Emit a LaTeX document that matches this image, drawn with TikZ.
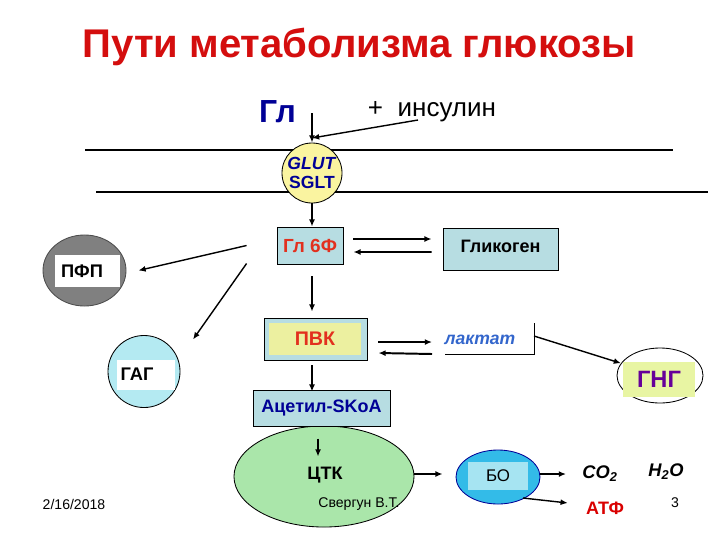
\documentclass[tikz,border=0pt]{standalone}
\usepackage{fontspec}
\setmainfont{Liberation Sans}
\usetikzlibrary{arrows.meta,calc,shapes.geometric}
\definecolor{titlered}{RGB}{212,14,14}
\definecolor{navy}{RGB}{0,0,150}
\definecolor{boxblue}{RGB}{183,221,226}
\definecolor{glutyel}{RGB}{250,244,160}
\definecolor{pvkyel}{RGB}{236,240,160}
\definecolor{gngyel}{RGB}{232,245,163}
\definecolor{gngpurple}{RGB}{102,0,153}
\definecolor{gagcyan}{RGB}{180,234,242}
\definecolor{tcagreen}{RGB}{170,230,170}
\definecolor{bocyan}{RGB}{51,187,232}
\definecolor{bolight}{RGB}{166,228,242}
\definecolor{laktblue}{RGB}{51,102,204}
\definecolor{g6fred}{RGB}{226,48,30}
\begin{document}
\begin{tikzpicture}[x=0.025cm,y=-0.025cm,line width=1pt,
  >={Latex[length=1.8mm,width=1.5mm]},
  box/.style={rectangle,draw,line width=0.6pt,fill=boxblue,inner sep=0pt},
  blob/.style={ellipse,draw,line width=0.6pt,inner sep=0pt},
  plate/.style={rectangle,inner sep=0pt},
  twin/.style={->,line width=1.4pt}]
  \useasboundingbox (0,0) rectangle (720,540);

  % title, glucose, insulin
  \node[text=titlered,font=\bfseries\fontsize{28.5}{32}\selectfont] (title) at (359,47) {Пути метаболизма глюкозы};
  \node[text=navy,font=\bfseries\fontsize{22.7}{26}\selectfont] (gl) at (277.5,112) {Гл};
  \node[font=\fontsize{18.5}{21}\selectfont] (ins) at (432,112) {+\ \ инсулин};
  \coordinate (glin) at (312,113);
  \coordinate (hit) at (312,138);

  % membrane
  \draw (85,150) -- (673,150);
  \draw (96,192) -- (708,192);
  \node[circle,draw,line width=0.6pt,inner sep=0pt,fill=glutyel,minimum size=1.5cm,align=center,
    text=navy,font=\bfseries\fontsize{12.5}{14}\selectfont] (glut) at (312,173) {\textit{GLUT}\\SGLT};

  \draw[->] (glin) -- (glut);
  \draw[->] ($(ins)+(-14,8)$) -- (hit);

  % glucose-6-phosphate and glycogen
  \node[box,minimum width=1.65cm,minimum height=0.925cm,text=g6fred,
    font=\bfseries\fontsize{13.5}{15}\selectfont] (g6f) at (310,245.5) {Гл 6Ф};
  \node[box,minimum width=2.875cm,minimum height=1.05cm,
    font=\bfseries\fontsize{12.8}{14}\selectfont] (glyk) at (500.5,249) {\raisebox{4pt}{Гликоген}};
  \draw[->] (glut.south) -- (glut.south |- g6f.north);
  \draw[twin] ($(g6f.east)+(10,-6.5)$) -- ($(glyk.west)+(-11,-10)$);
  \draw[twin] ($(glyk.west)+(-11,3)$) -- ($(g6f.east)+(10,6.5)$);

  % side pathways
  \node[blob,fill=gray,draw=black!70,minimum width=2.075cm,minimum height=1.775cm] (pfp) at (84.5,270.5) {};
  \node[plate,fill=white,minimum width=1.625cm,minimum height=0.8cm] (pfpbg) at (87.5,271) {};
  \node[font=\bfseries\fontsize{13}{15}\selectfont] (pfpt) at (82,271) {ПФП};
  \node[circle,draw,line width=0.6pt,inner sep=0pt,fill=gagcyan,minimum size=1.8cm] (gag) at (144,371.5) {};
  \node[plate,fill=white,minimum width=1.45cm,minimum height=0.75cm] (gagbg) at (146,375) {};
  \node[font=\bfseries\fontsize{13}{15}\selectfont] (gagt) at (137,374) {ГАГ};
  \draw[->] ($(g6f.west)+(-30,0)$) -- ($(pfp.east)+(12,0)$);
  \draw[->] ($(g6f.west)+(-30,18)$) -- ($(gag)+(49,-32)$);

  % pyruvate and lactate
  \node[box,minimum width=2.575cm,minimum height=1.05cm] (pvk) at (315.5,339) {};
  \node[plate,fill=pvkyel,minimum width=2.3cm,minimum height=0.8cm,text=g6fred,
    font=\bfseries\fontsize{14}{16}\selectfont] (pvkt) at (315,339) {ПВК};
  \draw[->] ($(g6f.south)+(2,12)$) -- ($(pvk.north)+(-3.5,-6)$);
  \node[text=laktblue,font=\bfseries\itshape\fontsize{12.5}{14}\selectfont] (lakt) at (480,340) {лактат};
  \draw[line width=0.6pt] ($(lakt)+(54,-17)$) -- ($(lakt)+(54,14)$) -- ($(lakt)+(-35,14)$);
  \draw[twin] ($(pvk.east)+(11,3)$) -- ($(lakt)+(-48,2)$);
  \draw[twin] ($(lakt)+(-48,14)$) -- ($(pvk.east)+(11,14)$);

  \node[blob,fill=white,minimum width=2.15cm,minimum height=1.375cm] (gng) at (660,375.5) {};
  \node[plate,fill=gngyel,minimum width=1.8cm,minimum height=0.875cm,text=gngpurple,
    font=\bfseries\fontsize{16.8}{18}\selectfont] (gngt) at (659,379.5) {ГНГ};
  \draw[->] ($(lakt)+(54,-4)$) -- (gng);

  % acetyl-CoA and TCA cycle
  \node[blob,fill=tcagreen,minimum width=4.5cm,minimum height=2.525cm] (tca) at (324,476.5) {};
  \node[box,minimum width=3.425cm,minimum height=0.9cm,text=navy,
    font=\bfseries\fontsize{12.8}{14}\selectfont] (acet) at (321.5,408) {Ацетил-SKoA};
  \draw[->] ($(pvk.south)+(-3.5,5)$) -- ($(acet.north)+(-9.5,2)$);
  \draw[->] ($(tca)+(-6,-38)$) -- ($(tca)+(-6,-20)$);
  \node[font=\bfseries\fontsize{12.8}{14}\selectfont] (tcat) at (325,475) {ЦТК};
  \node[font=\fontsize{10}{12}\selectfont] (sverg) at (359,504) {Свергун В.Т.};

  % biological oxidation
  \node[blob,draw=navy,fill=bocyan,minimum width=2.1cm,minimum height=1.35cm] (bo) at (498,477) {};
  \node[plate,fill=bolight,minimum width=1.5cm,minimum height=0.7cm,
    font=\fontsize{12}{14}\selectfont] (bot) at (498,476) {БО};
  \draw[->] ($(tca.east)+(0,-2.5)$) -- ($(bo.west)+(-13,-3)$);
  \node[font=\bfseries\itshape\fontsize{13}{15}\selectfont] (co2) at (600,474) {CO\textsubscript{2}};
  \node[font=\bfseries\itshape\fontsize{13}{15}\selectfont] (h2o) at (666,472) {H\textsubscript{2}O};
  \node[text=red!85!black,font=\bfseries\fontsize{12.8}{14}\selectfont] (atf) at (605,508) {АТФ};
  \draw[->] ($(bo.east)+(0,-3)$) -- ($(co2.west)+(-11,0)$);
  \draw[->] ($(bo)+(25,21)$) -- ($(atf.west)+(-13,-5)$);

  % footer
  \node[font=\fontsize{10}{12}\selectfont] (date) at (74,504) {2/16/2018};
  \node[font=\fontsize{10}{12}\selectfont] (page) at (675,503) {3};
\end{tikzpicture}
\end{document}
